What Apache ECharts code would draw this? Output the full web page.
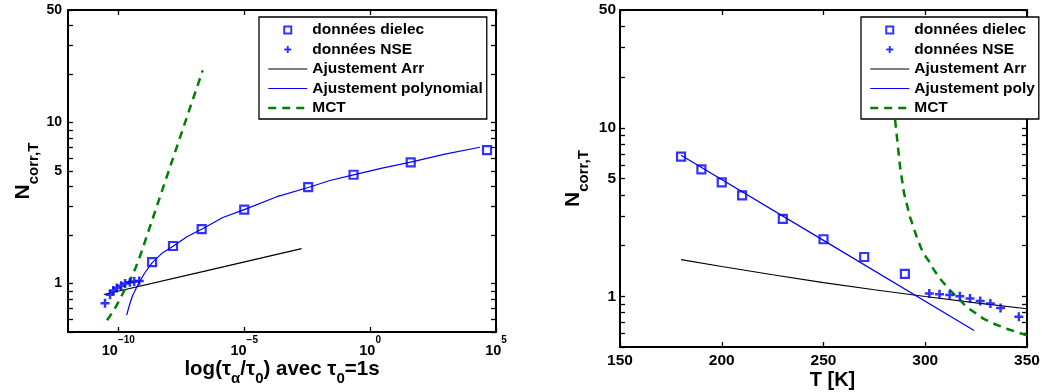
<!DOCTYPE html>
<html><head><meta charset="utf-8">
<script src="https://cdn.jsdelivr.net/npm/echarts@6/dist/echarts.min.js"></script>
<style>html,body{margin:0;padding:0;background:#fff}#c{width:1042px;height:392px}</style>
</head><body><div id="c"></div>
<script>
// ---------- data ----------
// dielectric data: temperature, tau_alpha/tau_0 and N_corr,T (same points in both panels)
const dielecT   = [180, 190, 200, 210, 230, 250, 270, 290];
const dielecTau = [4.4e4, 41, 0.22, 3.47e-3, 1.0e-5, 2.04e-7, 1.48e-8, 2.19e-9];
const dielecN   = [6.74, 5.66, 4.74, 3.97, 2.88, 2.18, 1.71, 1.36];
// NSE data
const nseT   = [302, 307, 312, 317, 322, 327, 332, 337, 346];
const nseTau = [6.76e-10, 4.27e-10, 2.88e-10, 1.86e-10, 1.29e-10, 8.7e-11, 6.3e-11, 4.68e-11, 2.95e-11];
const nseN   = [1.038, 1.028, 1.018, 1.0, 0.969, 0.938, 0.905, 0.852, 0.755];
// left panel fits (x = tau/tau0)
const arrTauL = [2.63e-11, 2.24e-7, 1.9e-3];
const arrNL   = [0.855, 1.187, 1.649];
const polyTauL = [2.14e-10, 2.74e-10, 3.71e-10, 5.85e-10, 1.08e-9, 2.17e-9, 5.6e-9, 1.48e-8, 5.5e-8,
                  2.03e-7, 1.41e-6, 1.0e-5, 1.86e-4, 3.47e-3, 2.75e-2, 0.218, 2.99, 41.1, 933, 2.3e4];
const polyNL   = [0.636, 0.733, 0.846, 0.976, 1.154, 1.344, 1.55, 1.706, 1.959,
                  2.175, 2.57, 2.88, 3.45, 3.95, 4.38, 4.73, 5.21, 5.67, 6.36, 7.02];
const mctTauL = [3.55e-11, 6.6e-11, 1.1e-10, 1.74e-10, 3.16e-10, 5.0e-10, 7.9e-10, 1.32e-8, 2.24e-7];
const mctNL   = [0.592, 0.682, 0.788, 0.909, 1.074, 1.268, 1.536, 5.69, 21.1];
// right panel fits (x = T)
const arrTR = [180, 200, 225, 250, 275, 300, 325, 350];
const arrNR = [1.65, 1.502, 1.342, 1.206, 1.093, 0.997, 0.914, 0.843];
const polyTR = [180, 250, 324];
const polyNR = [6.88, 2.147, 0.627];
const mctTR = [284.8, 285.1, 286.4, 287.6, 289.6, 292.5, 295.8, 299, 301.5, 304.2, 307.2, 311.4, 315.5, 320.4, 328.5, 334, 340, 349.9];
const mctNR = [13.5, 11.4, 8.1, 5.89, 4.08, 2.96, 2.25, 1.795, 1.638, 1.44, 1.274, 1.11, 0.99, 0.864, 0.737, 0.685, 0.642, 0.586];
// ticks
const tauTicks = [1e-10, 1e-5, 1, 1e5];
const tTicks = [150, 200, 250, 300, 350];
const nLabelTicks = [1, 5, 10, 50];
const nTicks = [0.5, 0.6, 0.7, 0.8, 0.9, 1, 2, 3, 4, 5, 6, 7, 8, 9, 10, 20, 30, 40, 50];
const namesL = ['données dielec', 'données NSE', 'Ajustement Arr', 'Ajustement polynomial', 'MCT'];
const namesR = ['données dielec', 'données NSE', 'Ajustement Arr', 'Ajustement poly', 'MCT'];

// ---------- chart ----------
const FONT = '"Liberation Sans", Arial, Helvetica, sans-serif';
const BLUE = '#0000ff', GREEN = '#008000', BLACK = '#000000';
const PLUS = 'path://M3.25,0H5.75V3.25H9V5.75H5.75V9H3.25V5.75H0V3.25H3.25Z';
const SQUARE = 'path://M0,0H10V10H0Z';
const zip = (a, b) => a.map((v, i) => [v, b[i]]);

const axisLine = {show: true, onZero: false, lineStyle: {color: BLACK, width: 2}};
const tick = vals => ({show: true, inside: true, length: 5, customValues: vals, lineStyle: {color: BLACK, width: 1.3}});
const noSplit = {show: false};
const txt = (size) => ({fontFamily: FONT, fontWeight: 'bold', fontSize: size, color: BLACK});

function supLabel(v) {
  const e = Math.round(Math.log10(v));
  return '{b|10}{s|' + (e < 0 ? '\u2212' + (-e) : String(e)) + '}';
}
const nameRich = (m, s, pad) => ({
  m: Object.assign(txt(m), {lineHeight: m + 6, verticalAlign: 'top'}),
  sub: Object.assign(txt(s), {padding: [pad, 0, 0, 0], verticalAlign: 'top'})
});

function yAxes(grid, fs, margin, nameGap) {
  return [
    {type: 'log', logBase: 10, gridIndex: grid, position: 'left', min: 0.5, max: 50,
     axisLine, axisTick: tick(nTicks), splitLine: noSplit,
     axisLabel: Object.assign(txt(fs), {customValues: nLabelTicks, margin,
       formatter: v => String(+(+v).toPrecision(6))}),
     name: '{m|N}{sub|corr,T}', nameLocation: 'middle', nameRotate: 90, nameGap, nameMoveOverlap: false,
     nameTextStyle: {rich: nameRich(21, 15, 13)}},
    {type: 'log', logBase: 10, gridIndex: grid, position: 'right', min: 0.5, max: 50,
     axisLine, axisTick: tick(nTicks), splitLine: noSplit, axisLabel: {show: false}}
  ];
}

const legendBase = (names, left) => ({
  orient: 'vertical', left, top: 17, selectedMode: false, symbolKeepAspect: true,
  itemWidth: 39, itemHeight: 7, itemGap: 3.5, padding: [5, 4, 3, 8],
  backgroundColor: '#ffffff', borderColor: BLACK, borderWidth: 1.3, borderRadius: 0,
  textStyle: txt(15.5),
  data: [
    {name: names[0], icon: SQUARE, itemStyle: {color: 'rgba(0,0,0,0)', borderColor: BLUE, borderWidth: 2}},
    {name: names[1], icon: PLUS, itemStyle: {color: BLUE, borderWidth: 0}},
    {name: names[2], itemStyle: {opacity: 0}, lineStyle: {color: BLACK, width: 1.2, type: 'solid'}},
    {name: names[3], itemStyle: {opacity: 0}, lineStyle: {color: BLUE, width: 1.2, type: 'solid'}},
    {name: names[4], itemStyle: {opacity: 0}, lineStyle: {color: GREEN, width: 2.5, type: [8, 6]}}
  ]
});

const scatterDielec = (xi, yi, data) => ({type: 'scatter', name: 'données dielec', xAxisIndex: xi, yAxisIndex: yi,
  data, symbol: 'rect', symbolSize: 8, z: 5,
  itemStyle: {color: 'rgba(0,0,0,0)', borderColor: BLUE, borderWidth: 2.2}});
const scatterNSE = (xi, yi, data) => ({type: 'scatter', name: 'données NSE', xAxisIndex: xi, yAxisIndex: yi,
  data, symbol: PLUS, symbolSize: 9, z: 5, itemStyle: {color: BLUE}});
const line = (xi, yi, name, data, color, width, type) => ({type: 'line', name, xAxisIndex: xi, yAxisIndex: yi,
  data, symbol: 'none', showSymbol: false, smooth: false,
  lineStyle: {color, width, type}, itemStyle: {color}, z: 3});

const option = {
  animation: false,
  backgroundColor: '#ffffff',
  grid: [
    {left: 68, top: 10, width: 428, height: 322, outerBoundsMode: 'none', containLabel: false},
    {left: 620, top: 10, width: 407, height: 337, outerBoundsMode: 'none', containLabel: false}
  ],
  xAxis: [
    {type: 'log', logBase: 10, gridIndex: 0, position: 'bottom', min: 1e-12, max: 1e5,
     axisLine, axisTick: tick(tauTicks), splitLine: noSplit,
     axisLabel: Object.assign(txt(14.5), {customValues: tauTicks, margin: 3, formatter: supLabel,
       rich: {b: Object.assign(txt(14.5), {lineHeight: 23, verticalAlign: 'bottom'}),
              s: Object.assign(txt(10), {verticalAlign: 'top'})}}),
     name: '{m|log(τ}{sub|α}{m|/τ}{sub|0}{m|) avec τ}{sub|0}{m|=1s}', nameLocation: 'middle', nameGap: 27,
     nameMoveOverlap: false,
     nameTextStyle: {rich: nameRich(20.5, 15, 12)}},
    {type: 'log', logBase: 10, gridIndex: 0, position: 'top', min: 1e-12, max: 1e5,
     axisLine, axisTick: tick(tauTicks), splitLine: noSplit, axisLabel: {show: false}},
    {type: 'value', gridIndex: 1, position: 'bottom', min: 150, max: 350, interval: 50,
     axisLine, axisTick: tick(tTicks), splitLine: noSplit,
     axisLabel: Object.assign(txt(15.5), {margin: 6}),
     name: 'T [K]', nameLocation: 'middle', nameGap: 23, nameMoveOverlap: false,
     nameTextStyle: Object.assign(txt(20), {padding: [0, 0, 0, 18]})},
    {type: 'value', gridIndex: 1, position: 'top', min: 150, max: 350, interval: 50,
     axisLine, axisTick: tick(tTicks), splitLine: noSplit, axisLabel: {show: false}}
  ],
  yAxis: [].concat(yAxes(0, 14, 6, 27), yAxes(1, 15.5, 4, 29)),
  legend: [legendBase(namesL, 259), legendBase(namesR, 861)],
  series: [
    line(0, 0, 'Ajustement Arr', zip(arrTauL, arrNL), BLACK, 1.2, 'solid'),
    line(0, 0, 'Ajustement polynomial', zip(polyTauL, polyNL), BLUE, 1.2, 'solid'),
    line(0, 0, 'MCT', zip(mctTauL, mctNL), GREEN, 2.5, [8, 6]),
    scatterDielec(0, 0, zip(dielecTau, dielecN)),
    scatterNSE(0, 0, zip(nseTau, nseN)),
    line(2, 2, 'Ajustement Arr', zip(arrTR, arrNR), BLACK, 1.2, 'solid'),
    line(2, 2, 'Ajustement poly', zip(polyTR, polyNR), BLUE, 1.2, 'solid'),
    line(2, 2, 'MCT', zip(mctTR, mctNR), GREEN, 2.5, [8, 6]),
    scatterDielec(2, 2, zip(dielecT, dielecN)),
    scatterNSE(2, 2, zip(nseT, nseN))
  ]
};
const chart = echarts.init(document.getElementById('c'), null, {renderer: 'canvas'});
chart.setOption(option);
</script>
</body></html>
